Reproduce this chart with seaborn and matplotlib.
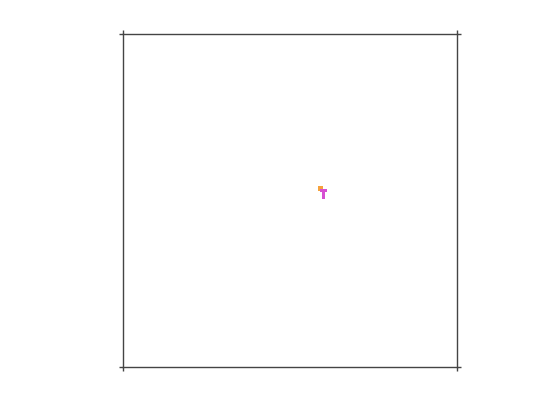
import numpy as np
import pandas as pd
import matplotlib
matplotlib.use("Agg")
import matplotlib.pyplot as plt
import seaborn as sns
from matplotlib.colors import ListedColormap

# grid of mostly empty cells, a few filled ones near the centre
grid_size = 200
orange_cells = [(91, 117), (91, 118), (91, 119), (92, 117), (92, 118), (92, 119), (93, 117)]
magenta_cells = [(93, 118), (93, 119), (93, 120), (93, 121),
                 (94, 118), (94, 119), (94, 120), (94, 121),
                 (95, 119), (95, 120), (96, 119), (96, 120),
                 (97, 119), (97, 120), (98, 119), (98, 120)]
cell_colors = ["#f5a23c", "#d64fd2"]

values = np.zeros((grid_size, grid_size))
for r, c in orange_cells:
    values[r, c] = 1
for r, c in magenta_cells:
    values[r, c] = 2
df = pd.DataFrame(values)

sns.set_style("white")
fig = plt.figure(figsize=(5.6, 4.2), dpi=100)
ax = fig.add_axes([123 / 560, 1 - 367 / 420, 334 / 560, 333 / 420])

sns.heatmap(df, mask=(df == 0), cmap=ListedColormap(cell_colors), vmin=0.5, vmax=2.5,
            cbar=False, xticklabels=False, yticklabels=False, ax=ax)

for side in ["top", "bottom", "left", "right"]:
    ax.spines[side].set_visible(True)
    ax.spines[side].set_color("#444444")
    ax.spines[side].set_linewidth(1)

ax.set_xticks([0, grid_size])
ax.set_yticks([0, grid_size])
ax.set_xticklabels([])
ax.set_yticklabels([])
ax.tick_params(axis="both", which="both", direction="out", length=3, width=1, color="#444444",
               top=True, bottom=True, left=True, right=True)
ax.set_xlabel("")
ax.set_ylabel("")

fig.savefig("out.png", dpi=100)
